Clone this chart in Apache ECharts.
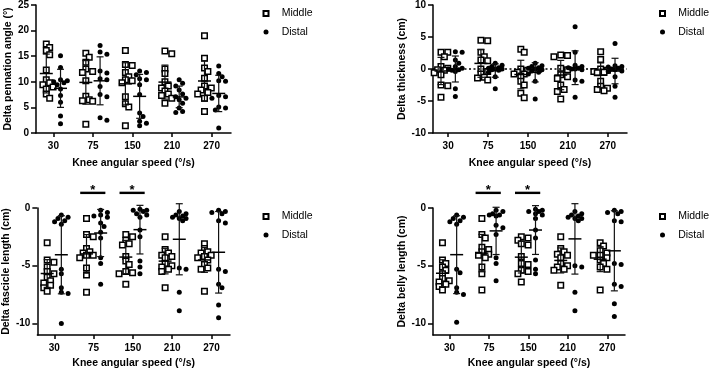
<!DOCTYPE html>
<html><head><meta charset="utf-8">
<script src="https://cdn.jsdelivr.net/npm/echarts@6/dist/echarts.min.js"></script>
<style>html,body{margin:0;padding:0;background:#fff}#c{width:709px;height:370px}</style>
</head><body><div id="c"></div>
<script>
// ---------------- data ----------------
const categories = ['30', '75', '150', '210', '270'];
const xAxisTitle = 'Knee angular speed (°/s)';
const seriesNames = ['Middle', 'Distal'];
const yTitles = ['Delta pennation angle (°)', 'Delta thickness (cm)', 'Delta fascicle length (cm)', 'Delta belly length (cm)'];

const pennationMiddle = [
  [17.4, 16.7, 16.1, 15.3, 12.3, 10.4, 9.8, 9.4, 9.0, 8.6, 7.6, 6.8],
  [15.6, 14.8, 13.8, 12.5, 12.0, 11.8, 10.2, 7.2, 6.5, 6.3, 6.2, 1.7],
  [16.1, 13.4, 13.2, 11.8, 11.0, 10.4, 10.2, 9.8, 7.1, 5.7, 5.1, 1.4],
  [16.0, 15.5, 12.5, 11.6, 10.0, 9.2, 8.8, 8.2, 7.6, 7.3, 6.8, 5.8],
  [19.0, 14.6, 12.7, 12.0, 10.7, 9.2, 8.8, 8.4, 7.9, 7.6, 6.8, 4.2]
];
const pennationDistal = [
  [15.1, 12.8, 10.4, 10.2, 10.0, 9.8, 9.4, 8.6, 7.3, 6.0, 3.3, 1.8],
  [17.1, 15.8, 15.4, 12.1, 11.7, 10.6, 10.4, 9.1, 7.5, 7.1, 3.0, 2.5],
  [12.1, 11.8, 11.4, 10.6, 10.4, 9.4, 7.5, 3.9, 3.2, 2.3, 1.9, 1.4],
  [10.4, 9.7, 9.2, 8.4, 7.6, 7.1, 6.8, 6.5, 5.8, 4.9, 4.2, 4.0],
  [13.1, 11.6, 11.0, 10.2, 10.1, 7.3, 7.1, 6.8, 5.1, 4.9, 4.5, 1.0]
];
const thicknessMiddle = [
  [2.6, 2.6, 1.9, 0.4, 0.1, -0.1, -0.2, -0.6, -0.9, -2.5, -2.6, -4.4],
  [4.5, 4.4, 2.6, 1.9, 1.4, 1.3, 0.0, -0.4, -0.8, -1.3, -1.4, -1.7],
  [3.1, 2.6, 0.0, -0.2, -0.5, -0.8, -0.8, -1.1, -1.9, -2.5, -3.8, -4.5],
  [2.2, 2.1, 1.9, 0.1, -0.1, -0.9, -1.2, -1.5, -2.5, -3.2, -3.5, -4.7],
  [2.7, 1.5, 0.0, -0.2, -0.4, -0.5, -0.6, -1.9, -2.7, -3.0, -3.2, -3.4]
];
const thicknessDistal = [
  [2.7, 2.6, 1.4, 0.9, 0.4, 0.1, 0.0, -0.1, -0.2, -0.4, -3.1, -4.3],
  [0.9, 0.6, 0.4, 0.2, 0.1, 0.0, 0.0, -0.1, -0.2, -0.5, -1.2, -3.1],
  [0.9, 0.5, 0.4, 0.2, 0.1, 0.0, -0.1, -0.3, -0.5, -0.8, -1.9, -4.7],
  [6.6, 2.6, 0.6, 0.4, 0.2, 0.1, 0.0, 0.0, -0.1, -1.7, -1.9, -4.4],
  [4.0, 0.5, 0.4, 0.3, 0.1, 0.0, -0.1, -0.3, -0.4, -1.2, -2.7, -4.4]
];
const fascicleMiddle = [
  [-3.0, -4.5, -4.7, -5.1, -5.5, -5.7, -6.0, -6.3, -6.5, -6.7, -6.9, -7.2],
  [-0.9, -2.3, -2.5, -3.5, -3.8, -3.9, -4.1, -4.1, -4.3, -5.2, -5.8, -7.3],
  [-2.3, -2.5, -2.8, -3.1, -3.2, -4.2, -4.6, -4.9, -5.5, -5.6, -5.7, -6.6],
  [-2.5, -3.6, -3.9, -4.1, -4.2, -4.3, -4.8, -5.0, -5.1, -5.3, -5.5, -6.9],
  [-3.1, -3.5, -3.8, -3.9, -4.1, -4.2, -4.3, -4.5, -4.9, -5.2, -5.3, -7.2]
];
const fascicleDistal = [
  [-0.6, -0.8, -0.9, -1.1, -1.2, -1.4, -5.3, -5.7, -6.9, -7.3, -7.4, -10.0],
  [-0.2, -0.4, -0.6, -0.7, -0.8, -1.3, -1.6, -2.1, -2.6, -4.3, -4.8, -6.6],
  [-0.1, -0.2, -0.2, -0.3, -0.5, -0.6, -0.8, -1.9, -2.5, -4.6, -5.1, -5.7],
  [-0.3, -0.5, -0.6, -0.7, -0.8, -0.9, -0.9, -1.1, -5.2, -5.3, -7.3, -8.9],
  [-0.2, -0.3, -0.4, -0.5, -1.1, -1.3, -5.3, -5.5, -6.6, -6.9, -8.4, -9.5]
];
const bellyMiddle = [
  [-3.0, -4.5, -4.8, -5.1, -5.4, -5.7, -6.1, -6.3, -6.4, -6.6, -6.8, -7.1],
  [-0.9, -2.3, -2.6, -3.4, -3.6, -3.8, -4.0, -4.1, -4.3, -5.1, -5.7, -7.1],
  [-2.5, -2.6, -2.8, -3.1, -3.2, -4.2, -4.8, -4.9, -5.4, -5.5, -5.7, -6.4],
  [-2.5, -3.5, -3.8, -4.0, -4.1, -4.3, -4.8, -5.0, -5.1, -5.3, -5.4, -6.7],
  [-3.0, -3.3, -3.7, -3.9, -4.1, -4.1, -4.3, -4.5, -4.8, -5.1, -5.3, -7.1]
];
const bellyDistal = [
  [-0.6, -0.8, -0.9, -1.1, -1.2, -1.4, -5.3, -5.6, -6.9, -7.3, -7.5, -9.9],
  [-0.2, -0.3, -0.5, -0.6, -0.6, -0.7, -1.5, -1.7, -2.3, -4.3, -4.8, -6.3],
  [-0.1, -0.2, -0.3, -0.3, -0.5, -0.6, -0.9, -1.9, -2.6, -4.5, -5.3, -5.7],
  [-0.3, -0.5, -0.6, -0.7, -0.8, -0.9, -0.9, -1.1, -5.0, -5.1, -7.3, -8.9],
  [-0.2, -0.3, -0.4, -0.5, -1.1, -1.2, -4.8, -4.9, -6.6, -6.8, -8.3, -9.4]
];
const significantCategories = [1, 2];   // 75 and 150 °/s, in fascicle & belly panels
const significanceLevel = 1.31;
const significanceMark = '*';

// ---------------- layout ----------------
const FONT = "'Liberation Sans', Arial, Helvetica, sans-serif";
const panels = [
  {mid: pennationMiddle, dist: pennationDistal, sig: false, zero: false,
   left: 36, top: 5, width: 195, height: 128, yMin: 0, yMax: 25, yTicks: [0, 5, 10, 15, 20, 25],
   xMin: -0.44, xMax: 4.49, nameGap: 22.5, xNameGap: 25, legendLeft: 262.5, legendTop: 8},
  {mid: thicknessMiddle, dist: thicknessDistal, sig: false, zero: true,
   left: 433, top: 5, width: 194, height: 128, yMin: -10, yMax: 10, yTicks: [-10, -5, 0, 5, 10],
   xMin: -0.38, xMax: 4.48, nameGap: 25, xNameGap: 25, legendLeft: 659, legendTop: 8},
  {mid: fascicleMiddle, dist: fascicleDistal, sig: true, zero: false,
   left: 36, top: 208, width: 194, height: 129, yMin: -11, yMax: 0, yTicks: [-10, -5, 0],
   xMin: -0.43, xMax: 4.47, nameGap: 23.5, xNameGap: 23, legendLeft: 262.5, legendTop: 211},
  {mid: bellyMiddle, dist: bellyDistal, sig: true, zero: false,
   left: 433, top: 208, width: 192, height: 129, yMin: -11, yMax: 0, yTicks: [-10, -5, 0],
   xMin: -0.42, xMax: 4.45, nameGap: 25.5, xNameGap: 23, legendLeft: 659, legendTop: 211}
];
const COL = 0.18;

function stats(arr) {
  const n = arr.length, m = arr.reduce((a, b) => a + b, 0) / n;
  const sd = Math.sqrt(arr.reduce((a, b) => a + (b - m) * (b - m), 0) / (n - 1));
  return [m, sd];
}
// horizontal spreading of overlapping points (layout only)
function swarm(values, pyu) {
  const d = 4.5, step = 3.4, ks = [0, 1, -1, 2, -2];
  const order = values.map((v, i) => i).sort((a, b) => values[b] - values[a]);
  const placed = [], off = new Array(values.length).fill(0);
  for (const i of order) {
    const y = values[i] * pyu;
    let best = 0, bestD = -1;
    for (const k of ks) {
      const x = k * step;
      const md = placed.reduce((mn, p) => Math.min(mn, Math.hypot(p[0] - x, p[1] - y)), Infinity);
      if (md >= d) { best = x; bestD = Infinity; break; }
      if (md > bestD) { bestD = md; best = x; }
    }
    off[i] = best; placed.push([best, y]);
  }
  return off;
}
function renderErr(params, api) {
  const x = api.value(0), m = api.value(1), s = api.value(2);
  const c = api.coord([x, m]), t = api.coord([x, m + s]), b = api.coord([x, m - s]);
  const st = {stroke: '#111', lineWidth: 1.2};
  const mw = 6.5, cw = 3.5;
  return {type: 'group', children: [
    {type: 'line', shape: {x1: c[0], y1: t[1], x2: c[0], y2: b[1]}, style: st},
    {type: 'line', shape: {x1: c[0] - cw, y1: t[1], x2: c[0] + cw, y2: t[1]}, style: st},
    {type: 'line', shape: {x1: c[0] - cw, y1: b[1], x2: c[0] + cw, y2: b[1]}, style: st},
    {type: 'line', shape: {x1: c[0] - mw, y1: c[1], x2: c[0] + mw, y2: c[1]}, style: {stroke: '#000', lineWidth: 1.5}}
  ]};
}
function renderSig(params, api) {
  const cat = api.value(0), lvl = api.value(1);
  const a = api.coord([cat - 0.34, lvl]), b = api.coord([cat + 0.30, lvl]);
  const cx = (a[0] + b[0]) / 2;
  return {type: 'group', children: [
    {type: 'line', shape: {x1: a[0], y1: a[1], x2: b[0], y2: b[1]}, style: {stroke: '#000', lineWidth: 2.4}},
    {type: 'text', x: cx, y: a[1] + 4, style: {text: significanceMark, fontSize: 13, fontWeight: 'bold', fontFamily: FONT, fill: '#000', align: 'center', verticalAlign: 'bottom'}}
  ]};
}

const grid = [], xAxis = [], yAxis = [], series = [], legend = [];
const catIdx = categories.map((c, i) => i);
panels.forEach((p, gi) => {
  grid.push({left: p.left, top: p.top, width: p.width, height: p.height});
  const textBase = {color: '#000', fontFamily: FONT, fontWeight: 'bold'};
  xAxis.push({
    type: 'value', gridIndex: gi, min: p.xMin, max: p.xMax,
    name: xAxisTitle, nameLocation: 'middle', nameGap: p.xNameGap,
    nameTextStyle: Object.assign({fontSize: 10.5}, textBase),
    axisLine: {show: true, onZero: false, lineStyle: {color: '#000', width: 1.5}},
    axisTick: {show: true, customValues: catIdx, length: 4, lineStyle: {color: '#000', width: 1.5}},
    axisLabel: Object.assign({customValues: catIdx, formatter: v => categories[Math.round(v)], fontSize: 10, margin: 8}, textBase),
    splitLine: {show: false}
  });
  yAxis.push({
    type: 'value', gridIndex: gi, min: p.yMin, max: p.yMax,
    name: yTitles[gi], nameLocation: 'middle', nameGap: p.nameGap, nameRotate: 90,
    nameTextStyle: Object.assign({fontSize: 10.5}, textBase),
    axisLine: {show: true, onZero: false, lineStyle: {color: '#000', width: 1.5}},
    axisTick: {show: true, customValues: p.yTicks, length: 5, lineStyle: {color: '#000', width: 1.5}},
    axisLabel: Object.assign({customValues: p.yTicks, fontSize: 10, margin: 7}, textBase),
    splitLine: {show: false}
  });
  const pyu = p.height / (p.yMax - p.yMin);
  const pxu = p.width / (p.xMax - p.xMin);
  const groups = [p.mid, p.dist];
  const errData = [];
  groups.forEach((g, si) => {
    const pts = [];
    g.forEach((vals, ci) => {
      const base = ci + (si === 0 ? -COL : COL);
      const off = swarm(vals, pyu);
      vals.forEach((v, k) => pts.push([base + off[k] / pxu, v]));
      const [m, sd] = stats(vals);
      errData.push([base, m, sd]);
    });
    const s = {
      type: 'scatter', name: seriesNames[si], xAxisIndex: gi, yAxisIndex: gi, data: pts,
      symbol: si === 0 ? 'rect' : 'circle', symbolSize: si === 0 ? 5.5 : 5,
      itemStyle: si === 0 ? {color: '#fff', borderColor: '#000', borderWidth: 1.5, opacity: 1} : {color: '#000', opacity: 1},
      z: 3
    };
    if (si === 0 && p.zero) {
      s.markLine = {silent: true, symbol: ['none', 'none'], label: {show: false},
        lineStyle: {color: '#000', type: [2, 2.5], width: 1.5}, data: [{yAxis: 0}], animation: false};
    }
    series.push(s);
  });
  series.push({type: 'custom', xAxisIndex: gi, yAxisIndex: gi, renderItem: renderErr, data: errData,
    encode: {x: 0, y: 1}, z: 4, silent: true});
  if (p.sig) {
    series.push({type: 'custom', xAxisIndex: gi, yAxisIndex: gi, renderItem: renderSig, clip: false,
      data: significantCategories.map(c => [c, significanceLevel]), encode: {x: 0, y: 1}, z: 5, silent: true});
  }
  legend.push({left: p.legendLeft, top: p.legendTop, orient: 'vertical', padding: 0, itemWidth: 5, itemHeight: 5, itemGap: 7.5,
    selectedMode: false, data: seriesNames,
    textStyle: {fontSize: 10.5, color: '#000', fontFamily: FONT, padding: [0, 0, 0, 8.2]}});
});

const chart = echarts.init(document.getElementById('c'), null, {renderer: 'canvas'});
chart.setOption({animation: false, backgroundColor: '#fff', grid, xAxis, yAxis, series, legend});
</script></body></html>
